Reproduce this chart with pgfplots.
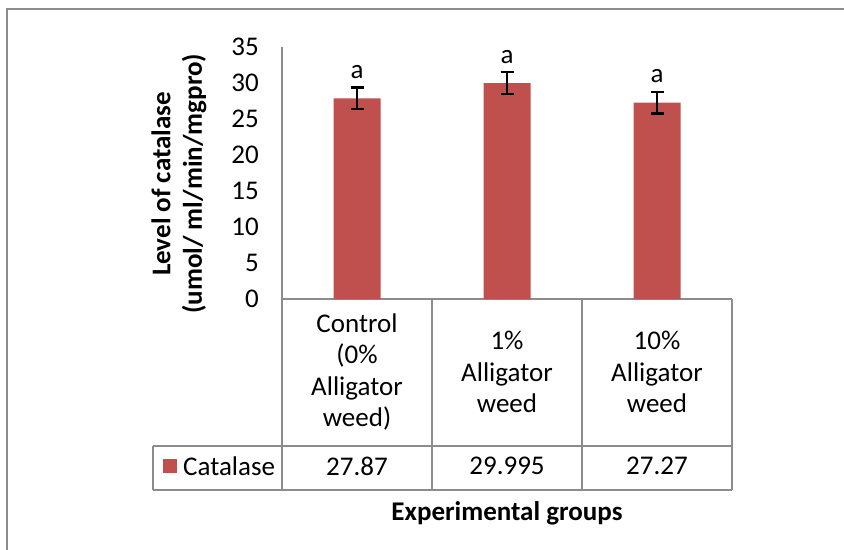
\documentclass[border=0pt]{standalone}
\usepackage{pgfplots}
\pgfplotsset{compat=1.18}
\usepackage{fontspec}
\setmainfont{Carlito}
\definecolor{barred}{HTML}{C0504D}
\definecolor{linegray}{HTML}{8C8C8C}
\begin{document}
\fontsize{27bp}{31.5bp}\selectfont
\begin{tikzpicture}[x=1bp,y=1bp]
\useasboundingbox (0,0) rectangle (844,-550);
\draw[linegray, line width=2.5bp] (7,-600) -- (7,-9) -- (900,-9);
\begin{axis}[
  at={(282bp,-299bp)}, anchor=south west,
  scale only axis, width=450bp, height=252bp,
  xmin=0.5, xmax=3.5, ymin=0, ymax=35,
  axis lines=left, axis line style={-, linegray, line width=1.5bp},
  xtick=\empty, ytick={0,5,...,35},
  major tick length=0pt,
  /pgf/number format/assume math mode=true,
  yticklabel style={inner sep=0pt, anchor=east, xshift=-23bp},
  clip=false,
]
\addplot[ybar, bar width=47bp, fill=barred, draw=none,
  error bars/.cd, y dir=both, y explicit,
  error bar style={black, line width=2.6bp},
  error mark options={rotate=90, mark size=6.5bp, line width=2.6bp, black}]
  coordinates {(1,27.87) +- (0,1.48) (2,29.995) +- (0,1.55) (3,27.27) +- (0,1.47)};
\node at (axis cs:1,31.57) {a};
\node at (axis cs:2,33.65) {a};
\node at (axis cs:3,30.97) {a};
\end{axis}
% data table
\begin{scope}[linegray, line width=1.5bp]
\draw (282,-299) -- (282,-490);
\draw (432,-299) -- (432,-490);
\draw (582,-299) -- (582,-490);
\draw (732,-299) -- (732,-490);
\draw (153,-446) -- (732,-446);
\draw (153,-490) -- (732,-490);
\draw (153,-446) -- (153,-490);
\end{scope}
\node[align=center] at (357,-372) {Control\\(0\%\\Alligator\\weed)};
\node[align=center] at (507,-372) {1\%\\Alligator\\weed};
\node[align=center] at (657,-372) {10\%\\Alligator\\weed};
\fill[barred] (163,-459) rectangle (177,-473);
\node[inner sep=0pt, anchor=west] at (183,-466) {Catalase};
\node at (357,-466) {27.87};
\node at (507,-466) {29.995};
\node at (657,-466) {27.27};
\node[rotate=90, align=center, font=\bfseries] at (179,-184) {Level of catalase\\(umol/ ml/min/mgpro)};
\node[font=\bfseries] at (507,-513) {Experimental groups};
\end{tikzpicture}
\end{document}
